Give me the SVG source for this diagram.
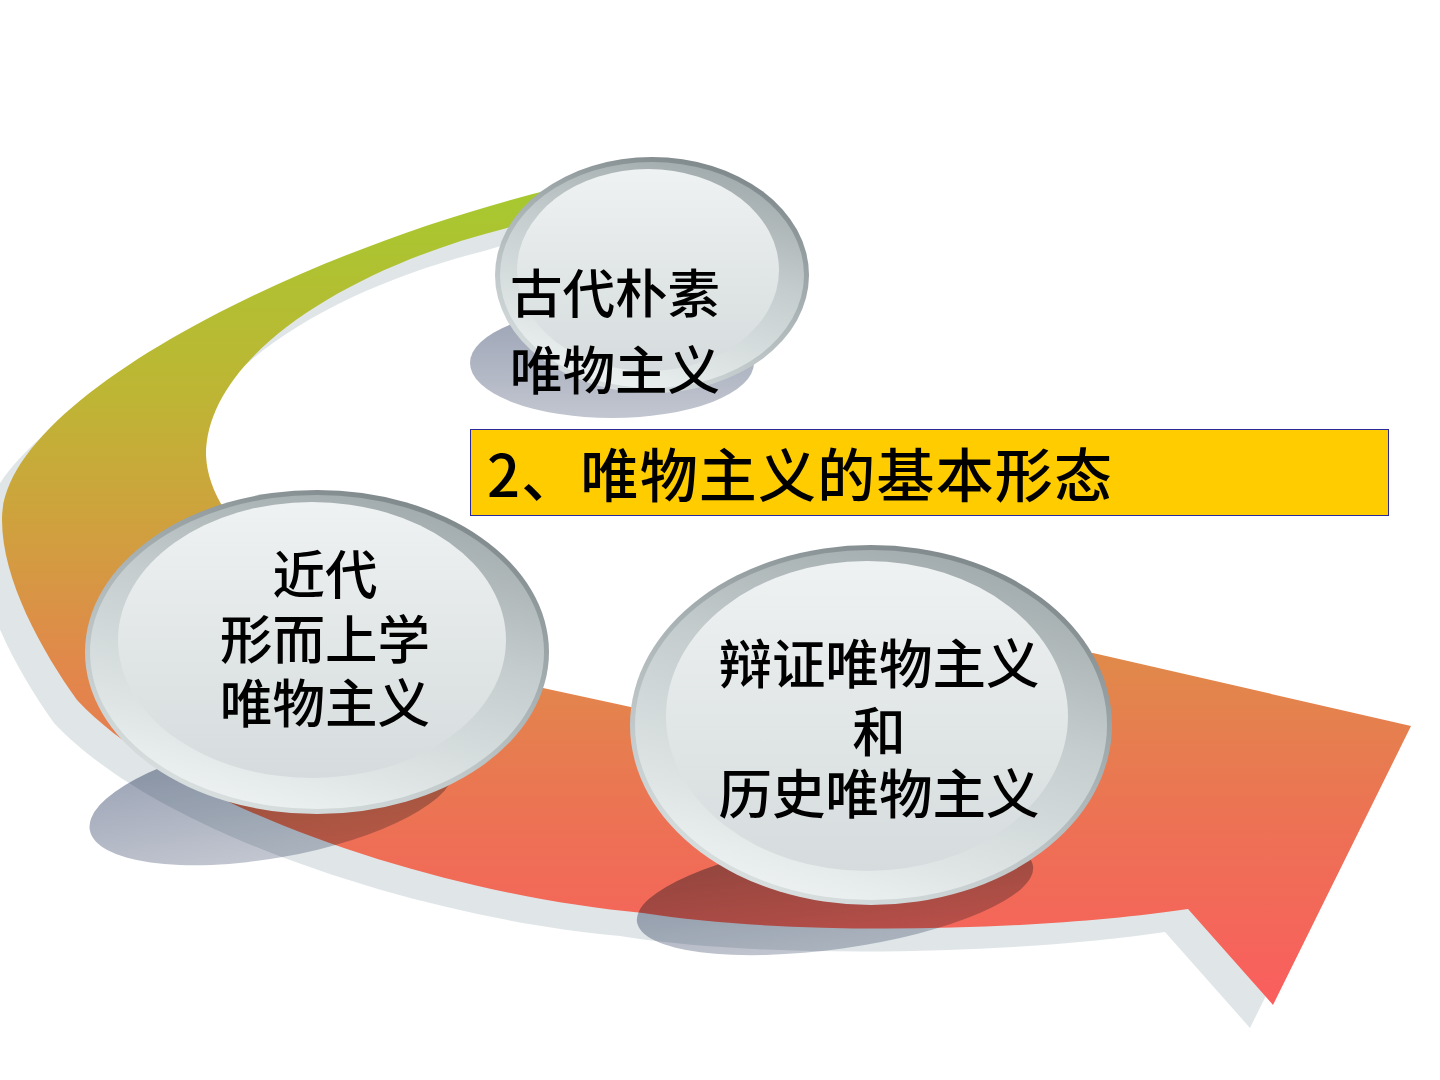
<svg xmlns="http://www.w3.org/2000/svg" width="1440" height="1080" viewBox="0 0 1440 1080">
  <defs>
    <linearGradient id="bandGrad" gradientUnits="userSpaceOnUse" x1="0" y1="185" x2="0" y2="1005">
      <stop offset="0" stop-color="#a6c92f"/>
      <stop offset="0.25" stop-color="#bdb634"/>
      <stop offset="0.42" stop-color="#d0a03e"/>
      <stop offset="0.57" stop-color="#e08a4a"/>
      <stop offset="0.8" stop-color="#ee6f55"/>
      <stop offset="1" stop-color="#fa5e5e"/>
    </linearGradient>
    <linearGradient id="rim" x1="0.75" y1="0" x2="0.25" y2="1">
      <stop offset="0" stop-color="#7b8487"/>
      <stop offset="0.45" stop-color="#aab3b5"/>
      <stop offset="1" stop-color="#dde3e3"/>
    </linearGradient>
    <linearGradient id="ring" x1="0.7" y1="0" x2="0.3" y2="1">
      <stop offset="0" stop-color="#a0a9ab"/>
      <stop offset="0.4" stop-color="#c4cccd"/>
      <stop offset="0.8" stop-color="#dfe5e5"/>
      <stop offset="1" stop-color="#eef2f2"/>
    </linearGradient>
    <linearGradient id="face" x1="0" y1="0" x2="0" y2="1">
      <stop offset="0" stop-color="#eff2f2"/>
      <stop offset="0.6" stop-color="#dfe4e5"/>
      <stop offset="1" stop-color="#d6dcdd"/>
    </linearGradient>
    <linearGradient id="shadowGrad" x1="0" y1="0" x2="0" y2="1">
      <stop offset="0" stop-color="#9aa2b4"/>
      <stop offset="1" stop-color="#c2c6d0"/>
    </linearGradient>
    <path id="bandShape" d="M 580,182 L 557,188 C 300,250 0,400 2,520 C 2,580 42,651 77,700 C 180,810 443,895 643,913 C 800,938 1050,930 1188,909 L 1273,1005 L 1411,726 L 1093,653 L 640,709 L 543,688 C 403,657 210,560 206,455 C 206,360 340,270 507,228 L 560,212 Z"/>
  </defs>
  <style>
    .rim { fill: url(#rim); }
    .ring { fill: url(#ring); }
    .face { fill: url(#face); }
    .shadow { fill: url(#shadowGrad); mix-blend-mode: multiply; }
    .lbl { font-family: "Noto Sans CJK SC", "Noto Sans CJK JP", sans-serif; font-size: 52.5px; font-weight: 500; fill: #000; text-anchor: middle; }
    .lbl-r { font-size: 53.5px; }
    .title { font-family: "Noto Sans CJK SC", "Noto Sans CJK JP", sans-serif; font-size: 58px; font-weight: 500; letter-spacing: 1.2px; fill: #000; }
  </style>

  <rect x="0" y="0" width="1440" height="1080" fill="#ffffff"/>

  <g id="connectors">
    <use href="#bandShape" transform="translate(-23,23)" fill="#e0e6e8"/>
    <use href="#bandShape" fill="url(#bandGrad)"/>
  </g>

  <g id="shadows">
    <ellipse class="shadow" cx="612" cy="363" rx="142" ry="55"/>
    <ellipse class="shadow" cx="272" cy="798" rx="185" ry="60" transform="rotate(-10 272 798)"/>
    <ellipse class="shadow" cx="835" cy="894" rx="200" ry="55" transform="rotate(-8 835 894)"/>
  </g>

  <g id="node-top">
    <ellipse class="rim" cx="652" cy="275" rx="157" ry="118"/>
    <ellipse class="ring" cx="652" cy="275" rx="152" ry="113"/>
    <ellipse class="face" cx="648" cy="270" rx="131" ry="101"/>
    <text class="lbl"><tspan x="615" y="313">古代朴素</tspan><tspan x="615" y="390">唯物主义</tspan></text>
  </g>

  <g id="node-left">
    <ellipse class="rim" cx="317" cy="652" rx="232" ry="162"/>
    <ellipse class="ring" cx="317" cy="652" rx="227" ry="157"/>
    <ellipse class="face" cx="312" cy="640" rx="194" ry="138"/>
    <text class="lbl"><tspan x="325" y="594">近代</tspan><tspan x="325" y="659">形而上学</tspan><tspan x="325" y="723">唯物主义</tspan></text>
  </g>

  <g id="node-right">
    <ellipse class="rim" cx="871" cy="725" rx="241" ry="180"/>
    <ellipse class="ring" cx="871" cy="725" rx="236" ry="175"/>
    <ellipse class="face" cx="867" cy="716" rx="201" ry="155"/>
    <text class="lbl lbl-r"><tspan x="879" y="684">辩证唯物主义</tspan><tspan x="879" y="752">和</tspan><tspan x="879" y="814">历史唯物主义</tspan></text>
  </g>

  <g id="node-title">
    <rect x="470.5" y="429.5" width="918" height="86" fill="#ffcc00" stroke="#2a2a9a" stroke-width="1"/>
    <text class="title" x="487" y="497">2、唯物主义的基本形态</text>
  </g>
</svg>
